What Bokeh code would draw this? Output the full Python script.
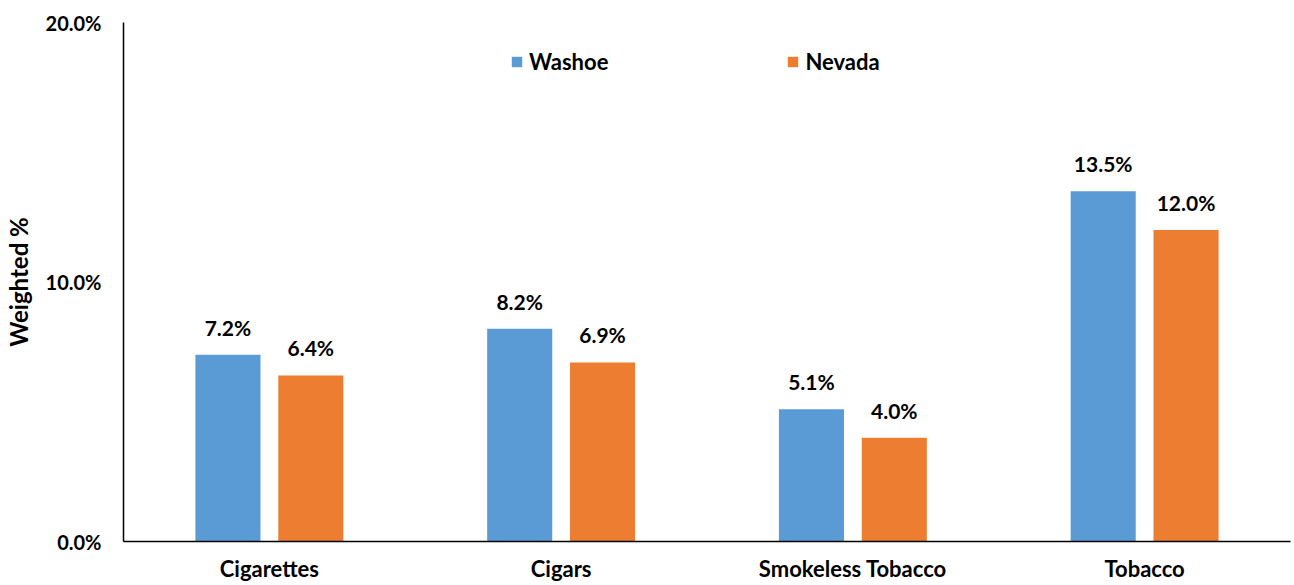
from bokeh.plotting import figure
from bokeh.models import ColumnDataSource, FixedTicker, PrintfTickFormatter, Legend, LegendItem
from bokeh.transform import dodge
from bokeh.core.properties import value
from bokeh.embed import file_html
from bokeh.resources import INLINE

categories = ["Cigarettes", "Cigars", "Smokeless Tobacco", "Tobacco"]
washoe = [7.2, 8.2, 5.1, 13.5]
nevada = [6.4, 6.9, 4.0, 12.0]
y_ticks = [0, 10, 20]

FONT = "Lato"
BLUE = "#5B9BD5"
ORANGE = "#ED7D31"

src = ColumnDataSource(dict(
    cat=categories,
    washoe=washoe,
    nevada=nevada,
    wl=["%.1f%%" % v for v in washoe],
    nl=["%.1f%%" % v for v in nevada],
))

p = figure(x_range=categories, y_range=(0, 20), width=1292, height=584,
           output_backend="svg", toolbar_location=None,
           min_border_left=123, min_border_right=2, min_border_top=22, min_border_bottom=43)

r1 = p.vbar(x=dodge("cat", -0.142, range=p.x_range), top="washoe", width=0.223,
            source=src, color=BLUE, line_color=None)
r2 = p.vbar(x=dodge("cat", 0.142, range=p.x_range), top="nevada", width=0.223,
            source=src, color=ORANGE, line_color=None)

for col, lab, off in (("washoe", "wl", -0.142), ("nevada", "nl", 0.142)):
    p.text(x=dodge("cat", off, range=p.x_range), y=col, text=lab, source=src,
           text_align="center", text_baseline="bottom", y_offset=-15,
           text_font=value(FONT), text_font_style="bold", text_font_size="21px",
           text_color="black")

p.grid.visible = False
p.outline_line_color = None

p.yaxis.ticker = FixedTicker(ticks=y_ticks)
p.yaxis.formatter = PrintfTickFormatter(format="%.1f%%")
p.yaxis.axis_label = "Weighted %"
for ax in (p.xaxis[0], p.yaxis[0]):
    ax.major_tick_line_color = None
    ax.minor_tick_line_color = None
    ax.major_tick_out = 0
    ax.major_tick_in = 0
    ax.minor_tick_out = 0
    ax.minor_tick_in = 0
    ax.axis_line_color = "black"
    ax.axis_line_width = 1.5
    ax.major_label_text_font = FONT
    ax.major_label_text_font_style = "bold"
    ax.major_label_text_color = "black"
    ax.axis_label_text_font = FONT
    ax.axis_label_text_font_style = "bold"
    ax.axis_label_text_color = "black"
p.yaxis.major_label_text_font_size = "20px"
p.yaxis.axis_label_text_font_size = "24px"
p.xaxis.major_label_text_font_size = "22px"
p.yaxis.major_label_standoff = 22
p.yaxis.axis_label_standoff = 10
p.xaxis.major_label_standoff = 13

legend = Legend(items=[LegendItem(label="Washoe", renderers=[r1]),
                       LegendItem(label="Nevada", renderers=[r2])],
                orientation="horizontal", location=(387, 466),
                glyph_width=13, glyph_height=13, spacing=178, padding=0,
                label_standoff=6, border_line_color=None, background_fill_alpha=0,
                label_text_font=FONT, label_text_font_style="bold",
                label_text_font_size="22px", label_text_color="black")
p.add_layout(legend)

open("out.html", "w").write(file_html(p, INLINE))
